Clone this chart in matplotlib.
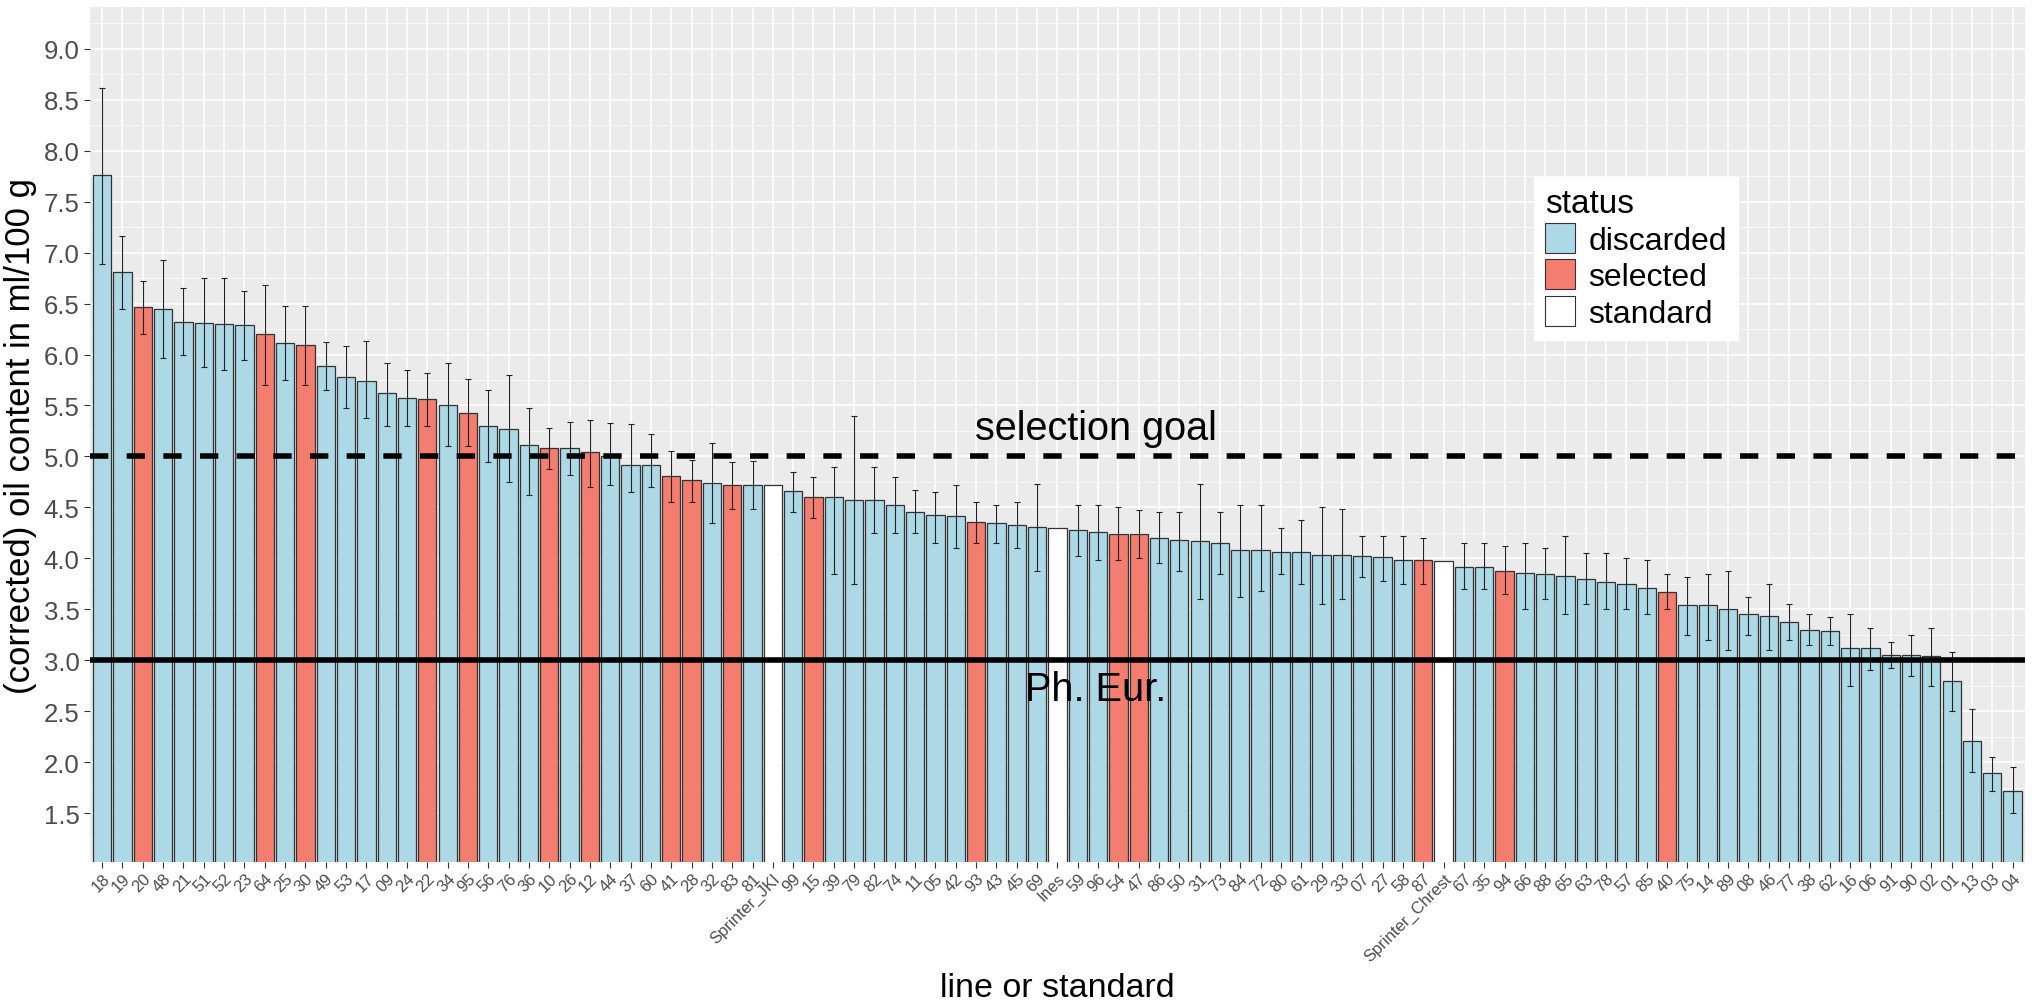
import numpy as np
import matplotlib
matplotlib.use("Agg")
import matplotlib.pyplot as plt
from matplotlib.patches import Patch

plt.rcParams['font.family'] = ['Liberation Sans', 'DejaVu Sans']

# data
lines = ['18', '19', '20', '48', '21', '51', '52', '23', '64', '25', '30', '49', '53', '17', '09',
         '24', '22', '34', '95', '56', '76', '36', '10', '26', '12', '44', '37', '60', '41', '28',
         '32', '83', '81', 'Sprinter_JKI', '99', '15', '39', '79', '82', '74', '11', '05', '42', '93',
         '43', '45', '69', 'Ines', '59', '96', '54', '47', '86', '50', '31', '73', '84', '72', '80',
         '61', '29', '33', '07', '27', '58', '87', 'Sprinter_Chrest', '67', '35', '94', '66', '88',
         '65', '63', '78', '57', '85', '40', '75', '14', '89', '08', '46', '77', '38', '62', '16',
         '06', '91', '90', '02', '01', '13', '03', '04']

oil = [7.76, 6.81, 6.47, 6.45, 6.32, 6.31, 6.30, 6.29, 6.20, 6.11, 6.09, 5.89, 5.78, 5.74, 5.62,
       5.57, 5.56, 5.50, 5.43, 5.30, 5.27, 5.11, 5.08, 5.08, 5.04, 5.00, 4.92, 4.92, 4.81, 4.77,
       4.74, 4.72, 4.72, 4.72, 4.66, 4.60, 4.60, 4.57, 4.57, 4.52, 4.45, 4.43, 4.42, 4.36,
       4.35, 4.33, 4.31, 4.30, 4.28, 4.26, 4.24, 4.24, 4.20, 4.18, 4.17, 4.15, 4.08, 4.08, 4.06,
       4.06, 4.03, 4.03, 4.02, 4.01, 3.98, 3.98, 3.97, 3.92, 3.92, 3.88, 3.86, 3.85,
       3.83, 3.80, 3.77, 3.75, 3.71, 3.67, 3.54, 3.54, 3.50, 3.45, 3.43, 3.38, 3.30, 3.29, 3.12,
       3.12, 3.05, 3.05, 3.04, 2.80, 2.21, 1.89, 1.72]

err_low = [6.89, 6.45, 6.20, 5.97, 6.00, 5.88, 5.85, 5.95, 5.70, 5.75, 5.70, 5.65, 5.48, 5.38, 5.30,
           5.30, 5.30, 5.10, 5.10, 4.95, 4.75, 4.62, 4.88, 4.82, 4.70, 4.72, 4.65, 4.70, 4.55, 4.55,
           4.35, 4.48, 4.48, np.nan, 4.45, 4.40, 3.85, 3.75, 4.25, 4.25, 4.25, 4.15, 4.10, 4.15,
           4.15, 4.10, 3.88, np.nan, 4.02, 3.98, 3.98, 4.00, 3.95, 3.88, 3.60, 3.85, 3.62, 3.68, 3.85,
           3.75, 3.55, 3.60, 3.82, 3.78, 3.75, 3.75, np.nan, 3.70, 3.70, 3.65, 3.50, 3.60,
           3.45, 3.55, 3.50, 3.50, 3.45, 3.50, 3.25, 3.20, 3.10, 3.25, 3.10, 3.20, 3.15, 3.15, 2.75,
           2.90, 2.92, 2.85, 2.75, 2.50, 1.90, 1.72, 1.50]

err_high = [8.62, 7.16, 6.72, 6.93, 6.65, 6.75, 6.75, 6.62, 6.68, 6.48, 6.48, 6.12, 6.08, 6.13, 5.92,
            5.85, 5.82, 5.92, 5.76, 5.65, 5.80, 5.48, 5.28, 5.34, 5.36, 5.33, 5.32, 5.22, 5.05, 4.97,
            5.13, 4.95, 4.96, np.nan, 4.85, 4.80, 4.90, 5.40, 4.90, 4.80, 4.67, 4.65, 4.72, 4.55,
            4.52, 4.55, 4.73, np.nan, 4.52, 4.52, 4.50, 4.47, 4.45, 4.45, 4.73, 4.45, 4.52, 4.52, 4.30,
            4.38, 4.50, 4.48, 4.22, 4.22, 4.22, 4.20, np.nan, 4.15, 4.15, 4.12, 4.15, 4.10,
            4.22, 4.05, 4.05, 4.00, 3.98, 3.85, 3.82, 3.85, 3.88, 3.62, 3.75, 3.55, 3.45, 3.42, 3.45,
            3.32, 3.18, 3.25, 3.32, 3.08, 2.52, 2.05, 1.95]

selected = ['20', '64', '30', '22', '95', '10', '12', '41', '28', '83', '15', '93', '54', '47',
            '87', '94', '40']
standards = ['Sprinter_JKI', 'Ines', 'Sprinter_Chrest']

status_colors = {'discarded': '#ADD8E6', 'selected': '#F37D6F', 'standard': '#FFFFFF'}

status = []
for l in lines:
    if l in standards:
        status.append('standard')
    elif l in selected:
        status.append('selected')
    else:
        status.append('discarded')

x = np.arange(len(lines))
oil = np.array(oil)
err_low = np.array(err_low)
err_high = np.array(err_high)

fig = plt.figure(figsize=(20.35, 10.04), dpi=100)
ax = fig.add_axes([0.0442, 0.1404, 0.9508, 0.8516])

ax.set_facecolor('#EBEBEB')
for s in ax.spines.values():
    s.set_visible(False)

# ggplot-like grid
ax.set_yticks(np.arange(1.5, 9.01, 0.5))
ax.set_yticks(np.arange(1.25, 9.3, 0.5), minor=True)
ax.grid(which='major', axis='both', color='white', linewidth=1.1)
ax.grid(which='minor', axis='y', color='white', linewidth=0.5)
ax.set_axisbelow(True)

ax.bar(x, oil, width=0.9, bottom=0, color=[status_colors[s] for s in status],
       edgecolor='#333333', linewidth=0.9, zorder=2)
ok = ~np.isnan(err_low)
ax.errorbar(x[ok], oil[ok], yerr=[oil[ok] - err_low[ok], err_high[ok] - oil[ok]],
            fmt='none', ecolor='#222222', elinewidth=0.8, capsize=2.5, capthick=0.8, zorder=3)

ax.axhline(5.0, color='black', linewidth=4, dashes=(3.3, 3.3), zorder=4)
ax.axhline(3.0, color='black', linewidth=4, zorder=4)

ax.text(0.52, 5.28, 'selection goal', transform=ax.get_yaxis_transform(),
        ha='center', va='center', fontsize=28.5, color='black', zorder=5)
ax.text(0.52, 2.72, 'Ph. Eur.', transform=ax.get_yaxis_transform(),
        ha='center', va='center', fontsize=28.5, color='black', zorder=5)

ax.set_xlim(-0.6, len(lines) - 0.4)
ax.set_ylim(1.02, 9.41)
ax.set_xticks(x)
ax.set_xticklabels(lines, rotation=45, ha='right', rotation_mode='anchor',
                   fontsize=12, color='#4D4D4D')
ax.tick_params(axis='y', labelsize=18.5, labelcolor='#4D4D4D', color='#333333', length=4)
ax.tick_params(axis='x', color='#333333', length=4, pad=2)
ax.tick_params(which='minor', length=0)

ax.set_xlabel('line or standard', fontsize=24.5, labelpad=6)
ax.set_ylabel('(corrected) oil content in ml/100 g', fontsize=25, labelpad=5)

handles = [Patch(facecolor=status_colors[k], edgecolor='#333333', linewidth=0.8, label=k)
           for k in ['discarded', 'selected', 'standard']]
leg = ax.legend(handles=handles, title='status', loc='upper left',
                bbox_to_anchor=(0.738, 0.82), fontsize=23, title_fontsize=24,
                frameon=True, fancybox=False, framealpha=1, edgecolor='white',
                handlelength=0.95, handleheight=1.05, handletextpad=0.4,
                labelspacing=0.12, borderpad=0.35)
leg._legend_box.align = 'left'

fig.savefig('out.png', dpi=100, facecolor='white')
